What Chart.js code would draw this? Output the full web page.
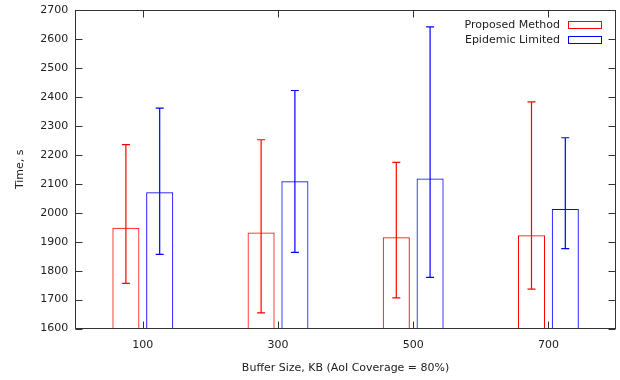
<!DOCTYPE html>
<html>
<head>
<meta charset="utf-8">
<script src="https://cdn.jsdelivr.net/npm/chart.js@4/dist/chart.umd.min.js"></script>
<style>
  html, body { margin: 0; padding: 0; background: #fff; }
  #wrap { width: 620px; height: 380px; }
</style>
</head>
<body>
<div id="wrap"><canvas id="chart"></canvas></div>
<script>
const categories = ['100', '300', '500', '700'];
const seriesNames = ['Proposed Method', 'Epidemic Limited'];
const proposedMean = [1948, 1932, 1915, 1922];
const proposedLow = [1756, 1654, 1706, 1736];
const proposedHigh = [2235, 2252, 2174, 2383];
const epidemicMean = [2071, 2109, 2118, 2013];
const epidemicLow = [1856, 1863, 1777, 1876];
const epidemicHigh = [2361, 2422, 2642, 2259];
const yMin = 1600, yMax = 2700, yStep = 100;

const colors = ['#ff0000', '#0000ff'];
const errLow = [proposedLow, epidemicLow];
const errHigh = [proposedHigh, epidemicHigh];
const FONT = '"DejaVu Sans", Verdana, sans-serif';
const TEXT = '#222';

// gnuplot-like error bars, drawn from the y scale
const errorBars = {
    id: 'errorBars',
    afterDatasetsDraw(chart) {
        const ctx = chart.ctx;
        const y = chart.scales.y;
        chart.data.datasets.forEach((ds, i) => {
            const meta = chart.getDatasetMeta(i);
            ctx.save();
            ctx.strokeStyle = colors[i];
            ctx.lineWidth = 1.2;
            ctx.beginPath();
            meta.data.forEach((bar, j) => {
                const x = bar.x;
                const hi = y.getPixelForValue(errHigh[i][j]);
                const lo = y.getPixelForValue(errLow[i][j]);
                ctx.moveTo(x, hi); ctx.lineTo(x, lo);
                ctx.moveTo(x - 4, hi); ctx.lineTo(x + 4, hi);
                ctx.moveTo(x - 4, lo); ctx.lineTo(x + 4, lo);
            });
            ctx.stroke();
            ctx.restore();
        });
    }
};

// frame, inward mirrored ticks and the legend
const frame = {
    id: 'frame',
    afterDraw(chart) {
        const ctx = chart.ctx;
        const a = chart.chartArea;
        const xs = chart.scales.x, ys = chart.scales.y;
        ctx.save();
        ctx.strokeStyle = '#333';
        ctx.lineWidth = 1;
        const L = Math.round(a.left) + 0.5, R = Math.round(a.right) - 0.5;
        const T = Math.round(a.top) + 0.5, B = Math.round(a.bottom) - 0.5;
        ctx.strokeRect(L, T, R - L, B - T);
        ctx.beginPath();
        ys.ticks.forEach((t, k) => {
            const py = Math.round(ys.getPixelForTick(k)) + 0.5;
            ctx.moveTo(L, py); ctx.lineTo(L + 7, py);
            ctx.moveTo(R, py); ctx.lineTo(R - 7, py);
        });
        xs.ticks.forEach((t, k) => {
            const px = Math.round(xs.getPixelForTick(k)) + 0.5;
            ctx.moveTo(px, B); ctx.lineTo(px, B - 7);
            ctx.moveTo(px, T); ctx.lineTo(px, T + 7);
        });
        ctx.stroke();

        ctx.font = '11px ' + FONT;
        ctx.fillStyle = TEXT;
        ctx.textAlign = 'right';
        ctx.textBaseline = 'middle';
        chart.data.datasets.forEach((ds, i) => {
            const rowY = Math.round(a.top + 15 + i * 15);
            ctx.fillText(ds.label, a.right - 56, rowY);
            ctx.strokeStyle = colors[i];
            ctx.strokeRect(Math.round(a.right - 48) + 0.5, rowY - 4 + 0.5, 33, 7);
        });
        ctx.restore();
    }
};

new Chart(document.getElementById('chart'), {
    type: 'bar',
    data: {
        labels: categories,
        datasets: [
            {
                label: seriesNames[0],
                data: proposedMean,
                borderColor: colors[0],
                backgroundColor: 'rgba(0,0,0,0)',
                borderWidth: 1
            },
            {
                label: seriesNames[1],
                data: epidemicMean,
                borderColor: colors[1],
                backgroundColor: 'rgba(0,0,0,0)',
                borderWidth: 1
            }
        ]
    },
    options: {
        responsive: true,
        maintainAspectRatio: false,
        animation: false,
        layout: { padding: { top: 10, right: 4, left: 14, bottom: 5 } },
        datasets: {
            bar: { categoryPercentage: 0.5, barPercentage: 0.8 }
        },
        scales: {
            x: {
                grid: { display: false, drawTicks: false },
                border: { display: false },
                ticks: { color: TEXT, font: { family: FONT, size: 11 }, padding: 10 },
                title: {
                    display: true,
                    text: 'Buffer Size, KB (AoI Coverage = 80%)',
                    color: TEXT,
                    font: { family: FONT, size: 11 },
                    padding: { top: 0, bottom: 0 }
                }
            },
            y: {
                min: yMin,
                max: yMax,
                grid: { display: false, drawTicks: false },
                border: { display: false },
                afterFit: (s) => { s.paddingTop = 0; },
                ticks: {
                    stepSize: yStep,
                    color: TEXT,
                    font: { family: FONT, size: 11 },
                    padding: 7,
                    callback: (v) => String(v)
                },
                title: {
                    display: true,
                    text: 'Time, s',
                    color: TEXT,
                    font: { family: FONT, size: 11 },
                    padding: { top: 0, bottom: 6 }
                }
            }
        },
        plugins: {
            legend: { display: false },
            tooltip: { enabled: false }
        }
    },
    plugins: [errorBars, frame]
});
</script>
</body>
</html>
